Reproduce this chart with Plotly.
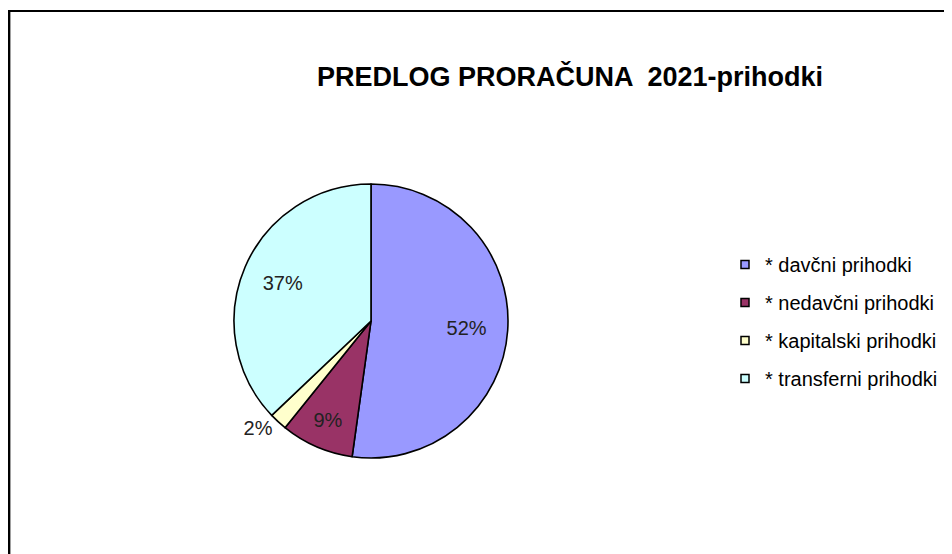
import plotly.graph_objects as go

categories = ["* davčni prihodki", "* nedavčni prihodki", "* kapitalski prihodki", "* transferni prihodki"]
values = [52.2, 8.6, 2.1, 37.1]
colors = ["#9999FF", "#993366", "#FFFFCC", "#CCFFFF"]
text_positions = ["inside", "inside", "outside", "inside"]
title_text = "PREDLOG PRORAČUNA \u00a02021-prihodki"

W, H = 952, 554
FONT = "Liberation Sans, Arial, sans-serif"
PIE_DOMAIN = dict(x=[226 / W, 500 / W], y=[1 - 450 / H, 1 - 176 / H])
fig = go.Figure()

# the slices
fig.add_trace(go.Pie(
    labels=categories,
    values=values,
    sort=False,
    direction="clockwise",
    rotation=0,
    marker=dict(colors=colors, line=dict(color="#000000", width=1.6)),
    textinfo="none",
    showlegend=False,
    domain=PIE_DOMAIN,
    hoverinfo="label+percent",
))

# percentage labels (same data, transparent ring so labels sit further out)
fig.add_trace(go.Pie(
    labels=categories,
    values=values,
    sort=False,
    direction="clockwise",
    rotation=0,
    hole=0.4,
    marker=dict(colors=["rgba(0,0,0,0)"] * len(values), line=dict(width=0)),
    textinfo="percent",
    texttemplate="%{percent:.0%}",
    textposition=text_positions,
    insidetextorientation="horizontal",
    textfont=dict(family=FONT, size=20, color="#222222"),
    showlegend=False,
    domain=PIE_DOMAIN,
    hoverinfo="skip",
))

# legend entries
for i, (name, c) in enumerate(zip(categories, colors)):
    fig.add_trace(go.Scatter(
        x=[None], y=[None], mode="markers", name=name,
        legendgroup=f"g{i}",
        marker=dict(symbol="square", size=8, color=c, line=dict(color="#000000", width=1.5)),
    ))

fig.update_layout(
    width=W, height=H,
    margin=dict(l=0, r=0, t=0, b=0),
    paper_bgcolor="white", plot_bgcolor="white",
    xaxis=dict(visible=False), yaxis=dict(visible=False),
    title=dict(
        text=f"<b>{title_text}</b>",
        x=562 / W, xanchor="center", y=1 - 69 / H, yanchor="middle",
        font=dict(family=FONT, size=27, color="#000000"),
    ),
    legend=dict(
        x=717 / W, xanchor="left", y=1 - 237 / H, yanchor="top",
        font=dict(family=FONT, size=20, color="#000000"),
        tracegroupgap=9, itemwidth=30, bgcolor="rgba(0,0,0,0)",
    ),
    shapes=[
        dict(type="rect", xref="paper", yref="paper",
             x0=1 / W, x1=1.02, y0=-0.02, y1=1 - 3 / H,
             line=dict(color="#000000", width=2)),
        dict(type="line", xref="paper", yref="paper",
             x0=2.5 / W, x1=2.5 / W, y0=-0.02, y1=1 - 4 / H,
             line=dict(color="#A0A0A0", width=1)),
    ],
)

fig.write_html("out.html")
